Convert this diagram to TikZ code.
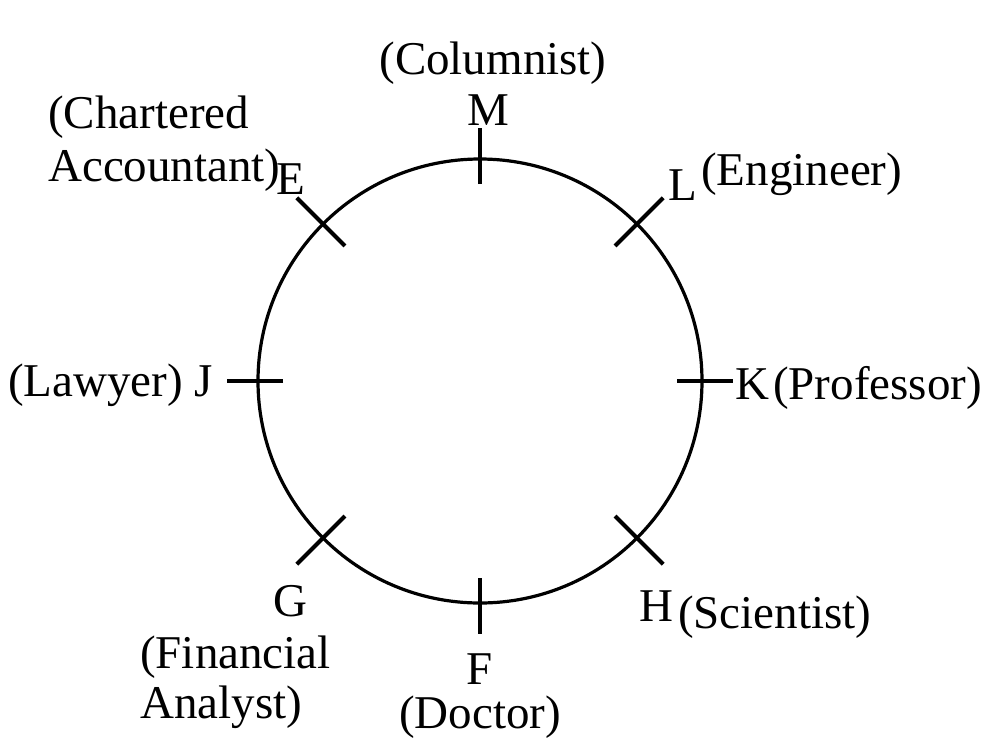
\documentclass[tikz,border=0pt]{standalone}
\usepackage{fontspec}
\setmainfont{Liberation Serif}
\usetikzlibrary{calc, positioning}

\begin{document}
\begin{tikzpicture}[
    x=1pt, y=-1pt,
    ring/.style={line width=3.2pt},
    tick_mark/.style={line width=4pt},
    % letters and professions
    seat_label/.style={font=\fontsize{47}{50}\selectfont, inner sep=0pt, anchor=base},
    job_label/.style={font=\fontsize{47}{50}\selectfont, inner sep=0pt, anchor=base west}
]
    \useasboundingbox (0,0) rectangle (996,748);

    % =====================================================================
    % TABLE
    % =====================================================================
    \coordinate (ctr) at (480,381);
    \draw [ring] (ctr) circle (222);
    \foreach \ang in {0,90,180,270}
        \draw [tick_mark] ($(ctr)+(\ang:197)$) -- ($(ctr)+(\ang:253)$);
    \foreach \ang in {45,135,225,315}
        \draw [tick_mark] ($(ctr)+(\ang:191)$) -- ($(ctr)+(\ang:259)$);

    % =====================================================================
    % SEATS
    % =====================================================================
    \node [seat_label] (m) at (488,125) {M};
    \node [seat_label] (columnist) at (493,74) {(Columnist)};

    \node [seat_label] (e) at (291,194) {E};
    \node [job_label] (chartered) at (48,128) {(Chartered};
    \node [job_label] (accountant) at (48,181) {Accountant)};

    \node [seat_label] (l) at (683,200) {L};
    \node [job_label] (engineer) at (701,185) {(Engineer)};

    \node [job_label] (lawyer) at (8,396) {(Lawyer) J};

    \node [seat_label] (k) at (752,399) {K};
    \node [job_label] (professor) at (773,399) {(Professor)};

    \node [seat_label] (g) at (290,616) {G};
    \node [job_label] (financial) at (140,668) {(Financial};
    \node [job_label] (analyst) at (140,718) {Analyst)};

    \node [seat_label] (f) at (480,684) {F};
    \node [seat_label] (doctor) at (480,728) {(Doctor)};

    \node [seat_label] (h) at (656,621) {H};
    \node [job_label] (scientist) at (678,628) {(Scientist)};
\end{tikzpicture}
\end{document}
